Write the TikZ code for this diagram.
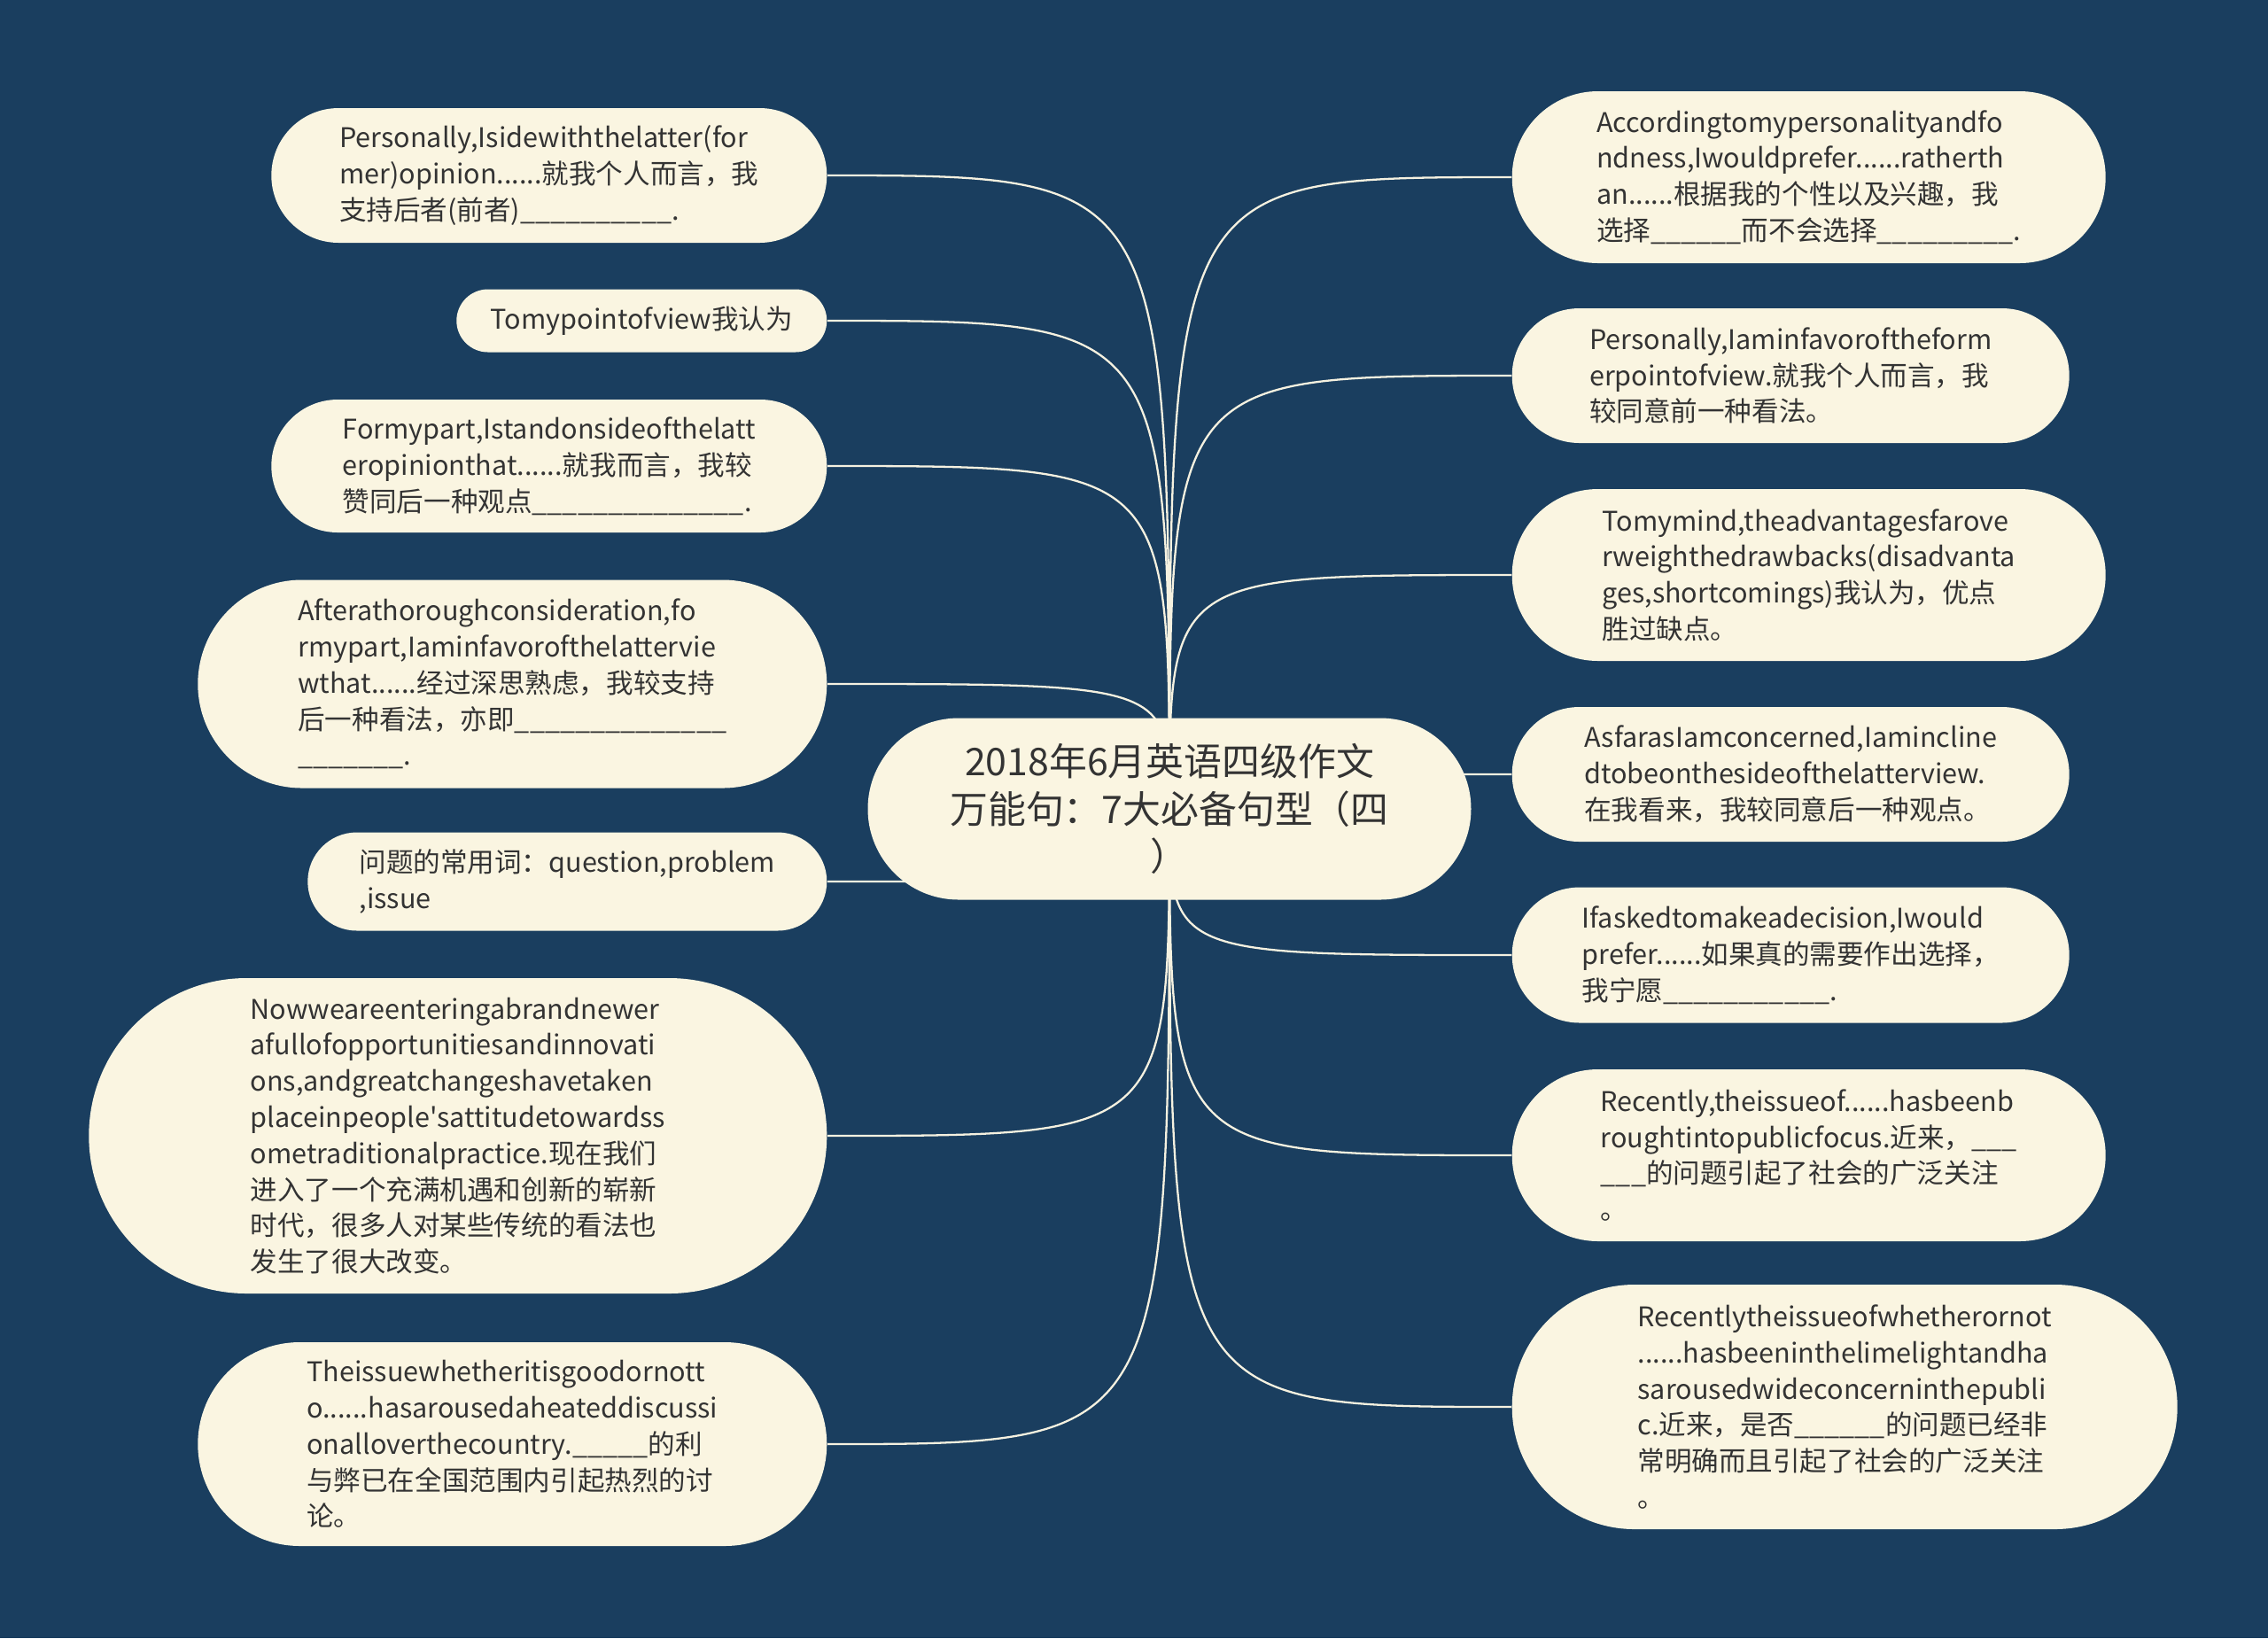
\documentclass[tikz,border=0pt]{standalone}
\usepackage{fontspec}
\setmainfont{Noto Sans CJK SC}[Ligatures=TeXOff]
\usetikzlibrary{shapes.misc, backgrounds}

\definecolor{bgblue}{HTML}{1A3E5F}
\definecolor{cream}{HTML}{FAF5E1}
\definecolor{inkgray}{HTML}{333333}
\definecolor{edgecol}{HTML}{F5F1E0}

\begin{document}
\begin{tikzpicture}[
  leaf/.style={rounded rectangle, fill=cream, text=inkgray, align=left, inner sep=0pt, font=\fontsize{8.7}{11.6}\selectfont},
  lleaf/.style={leaf, anchor=east},
  rleaf/.style={leaf, anchor=west},
  topicbox/.style={rounded rectangle, fill=cream, text=inkgray, align=center, inner sep=0pt, minimum width=6.81cm, minimum height=2.05cm, font=\fontsize{12.2}{15.3}\selectfont},
  edge/.style={draw=edgecol, line width=0.65pt}
]
\useasboundingbox (0,0) rectangle (25.60,-18.49);

\node[topicbox] (topic) at (13.20,-9.13) {2018年6月英语四级作文\\万能句：7大必备句型（四\\）};

% left side
\node[lleaf, minimum width=6.27cm, minimum height=1.52cm] (latter) at (9.34,-1.98) {Personally,Isidewiththelatter(for\\mer)opinion......就我个人而言，我\\支持后者(前者)\_\_\_\_\_\_\_\_\_\_.};
\node[lleaf, minimum width=4.18cm, minimum height=0.71cm] (pointview) at (9.34,-3.62) {Tomypointofview我认为};
\node[lleaf, minimum width=6.27cm, minimum height=1.50cm] (mypart) at (9.34,-5.26) {Formypart,Istandonsideofthelatt\\eropinionthat......就我而言，我较\\赞同后一种观点\_\_\_\_\_\_\_\_\_\_\_\_\_\_.};
\node[lleaf, minimum width=7.10cm, minimum height=2.35cm] (thorough) at (9.34,-7.72) {Afterathoroughconsideration,fo\\rmypart,Iaminfavorofthelattervie\\wthat......经过深思熟虑，我较支持\\后一种看法，亦即\_\_\_\_\_\_\_\_\_\_\_\_\_\_\\\_\_\_\_\_\_\_.};
\node[lleaf, minimum width=5.86cm, minimum height=1.11cm] (words) at (9.34,-9.95) {问题的常用词：question,problem\\,issue};
\node[lleaf, minimum width=8.33cm, minimum height=3.56cm] (newera) at (9.34,-12.82) {Nowweareenteringabrandnewer\\afullofopportunitiesandinnovati\\ons,andgreatchangeshavetaken\\placeinpeople'sattitudetowardss\\ometraditionalpractice.现在我们\\进入了一个充满机遇和创新的崭新\\时代，很多人对某些传统的看法也\\发生了很大改变。};
\node[lleaf, minimum width=7.10cm, minimum height=2.30cm] (heated) at (9.34,-16.30) {Theissuewhetheritisgoodornott\\o......hasarousedaheateddiscussi\\onalloverthecountry.\_\_\_\_\_的利\\与弊已在全国范围内引起热烈的讨\\论。};

% right side
\node[rleaf, minimum width=6.70cm, minimum height=1.94cm] (prefer) at (17.06,-2.00) {Accordingtomypersonalityandfo\\ndness,Iwouldprefer......ratherth\\an......根据我的个性以及兴趣，我\\选择\_\_\_\_\_\_而不会选择\_\_\_\_\_\_\_\_\_.};
\node[rleaf, minimum width=6.29cm, minimum height=1.52cm] (former) at (17.06,-4.24) {Personally,Iaminfavoroftheform\\erpointofview.就我个人而言，我\\较同意前一种看法。};
\node[rleaf, minimum width=6.70cm, minimum height=1.94cm] (mind) at (17.06,-6.49) {Tomymind,theadvantagesfarove\\rweighthedrawbacks(disadvanta\\ges,shortcomings)我认为，优点\\胜过缺点。};
\node[rleaf, minimum width=6.29cm, minimum height=1.52cm] (concerned) at (17.06,-8.74) {AsfarasIamconcerned,Iamincline\\dtobeonthesideofthelatterview.\\在我看来，我较同意后一种观点。};
\node[rleaf, minimum width=6.29cm, minimum height=1.53cm] (decision) at (17.06,-10.78) {Ifaskedtomakeadecision,Iwould\\prefer......如果真的需要作出选择，\\我宁愿\_\_\_\_\_\_\_\_\_\_\_.};
\node[rleaf, minimum width=6.70cm, minimum height=1.94cm] (focus) at (17.06,-13.04) {Recently,theissueof......hasbeenb\\roughtintopublicfocus.近来，\_\_\_\\\_\_\_的问题引起了社会的广泛关注\\。};
\node[rleaf, minimum width=7.51cm, minimum height=2.76cm] (limelight) at (17.06,-15.88) {Recentlytheissueofwhetherornot\\......hasbeeninthelimelightandha\\sarousedwideconcerninthepubli\\c.近来，是否\_\_\_\_\_\_的问题已经非\\常明确而且引起了社会的广泛关注\\。};

\begin{scope}[on background layer]
\fill[bgblue] (0,0) rectangle (25.60,-18.49);
\draw[edge] (topic.center) .. controls (topic.center |- latter.east) .. (latter.east);
\draw[edge] (topic.center) .. controls (topic.center |- pointview.east) .. (pointview.east);
\draw[edge] (topic.center) .. controls (topic.center |- mypart.east) .. (mypart.east);
\draw[edge] (topic.center) .. controls (topic.center |- thorough.east) .. (thorough.east);
\draw[edge] (topic.center) .. controls (topic.center |- words.east) .. (words.east);
\draw[edge] (topic.center) .. controls (topic.center |- newera.east) .. (newera.east);
\draw[edge] (topic.center) .. controls (topic.center |- heated.east) .. (heated.east);
\draw[edge] (topic.center) .. controls (topic.center |- prefer.west) .. (prefer.west);
\draw[edge] (topic.center) .. controls (topic.center |- former.west) .. (former.west);
\draw[edge] (topic.center) .. controls (topic.center |- mind.west) .. (mind.west);
\draw[edge] (topic.center) .. controls (topic.center |- concerned.west) .. (concerned.west);
\draw[edge] (topic.center) .. controls (topic.center |- decision.west) .. (decision.west);
\draw[edge] (topic.center) .. controls (topic.center |- focus.west) .. (focus.west);
\draw[edge] (topic.center) .. controls (topic.center |- limelight.west) .. (limelight.west);
\end{scope}

\end{tikzpicture}
\end{document}
